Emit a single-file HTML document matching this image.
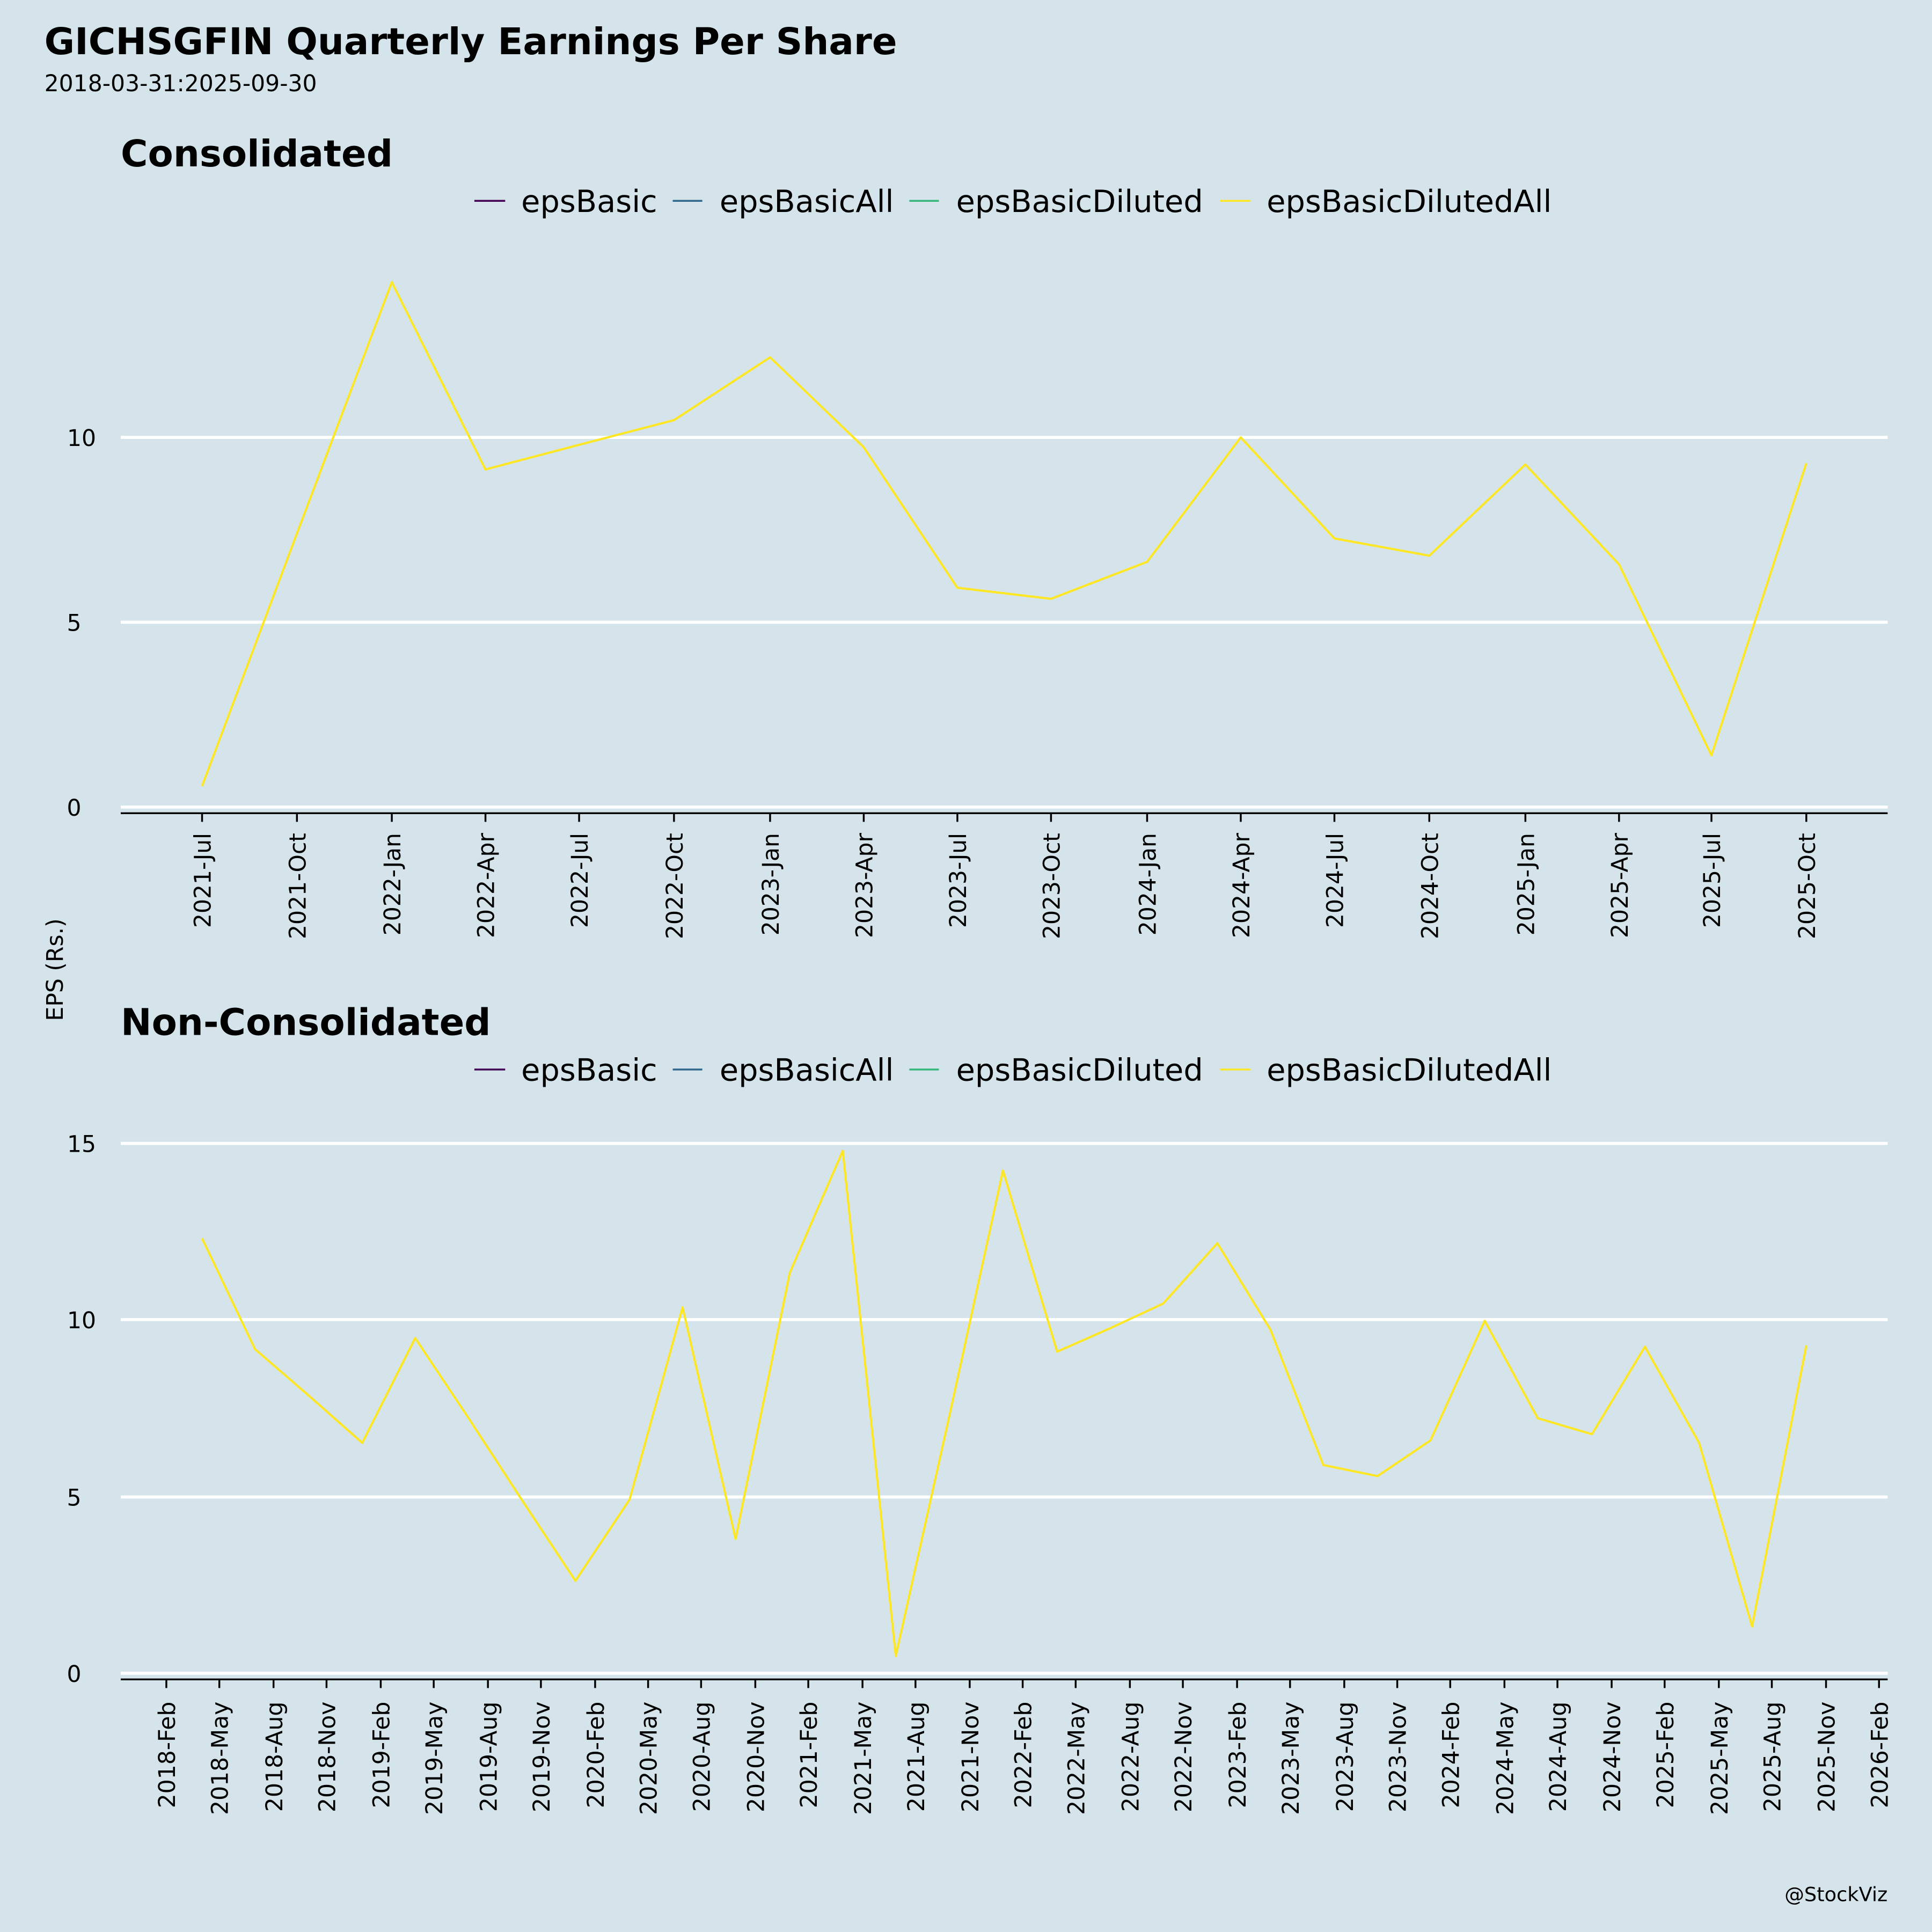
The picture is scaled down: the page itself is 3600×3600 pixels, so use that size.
<!DOCTYPE html>
<html><head><meta charset="utf-8"><style>
html,body{margin:0;padding:0;background:#d5e4eb;}
svg{display:block;}
text{font-family:"DejaVu Sans","Liberation Sans",sans-serif;fill:#000;}
</style></head><body>
<svg width="3600" height="3600" viewBox="0 0 1568 1568" xmlns="http://www.w3.org/2000/svg">
<rect width="1568" height="1568" fill="#d5e4eb"/>
<text x="36" y="44" font-size="30" font-weight="bold">GICHSGFIN Quarterly Earnings Per Share</text>
<text x="36" y="74" font-size="18.5">2018-03-31:2025-09-30</text>
<text x="45" y="787" font-size="18.5" transform="rotate(-90 45 787)" text-anchor="middle" dy="6">EPS (Rs.)</text>
<text x="1532" y="1543" font-size="16" text-anchor="end">@StockViz</text>

<!-- Panel 1 -->
<text x="98" y="135" font-size="30" font-weight="bold">Consolidated</text>
<g font-size="25">
<line x1="385" y1="163" x2="410" y2="163" stroke="#440154" stroke-width="1.5"/><text x="423" y="172">epsBasic</text>
<line x1="546" y1="163" x2="570" y2="163" stroke="#31688e" stroke-width="1.5"/><text x="584" y="172">epsBasicAll</text>
<line x1="738" y1="163" x2="762" y2="163" stroke="#35b779" stroke-width="1.5"/><text x="776" y="172">epsBasicDiluted</text>
<line x1="990" y1="163" x2="1015" y2="163" stroke="#fde725" stroke-width="1.5"/><text x="1028" y="172">epsBasicDilutedAll</text>
</g>
<g stroke="#fff" stroke-width="2.5">
<line x1="98" y1="655" x2="1532" y2="655"/><line x1="98" y1="505" x2="1532" y2="505"/><line x1="98" y1="355" x2="1532" y2="355"/>
</g>
<g font-size="18.5" text-anchor="end">
<text x="66" y="662">0</text><text x="66" y="512">5</text><text x="78" y="362">10</text>
</g>
<line x1="98" y1="660" x2="1532" y2="660" stroke="#000" stroke-width="1.5"/>
<g stroke="#000" stroke-width="1.5">
<line x1="164" y1="660" x2="164" y2="667"/><line x1="241" y1="660" x2="241" y2="667"/><line x1="318" y1="660" x2="318" y2="667"/><line x1="394" y1="660" x2="394" y2="667"/><line x1="470" y1="660" x2="470" y2="667"/><line x1="547" y1="660" x2="547" y2="667"/><line x1="625" y1="660" x2="625" y2="667"/><line x1="701" y1="660" x2="701" y2="667"/><line x1="777" y1="660" x2="777" y2="667"/><line x1="853" y1="660" x2="853" y2="667"/><line x1="931" y1="660" x2="931" y2="667"/><line x1="1007" y1="660" x2="1007" y2="667"/><line x1="1083" y1="660" x2="1083" y2="667"/><line x1="1160" y1="660" x2="1160" y2="667"/><line x1="1238" y1="660" x2="1238" y2="667"/><line x1="1314" y1="660" x2="1314" y2="667"/><line x1="1389" y1="660" x2="1389" y2="667"/><line x1="1466" y1="660" x2="1466" y2="667"/>
</g>
<g font-size="18.5" text-anchor="end">
<text transform="translate(171,676) rotate(-90)">2021-Jul</text>
<text transform="translate(248,676) rotate(-90)">2021-Oct</text>
<text transform="translate(325,676) rotate(-90)">2022-Jan</text>
<text transform="translate(401,676) rotate(-90)">2022-Apr</text>
<text transform="translate(477,676) rotate(-90)">2022-Jul</text>
<text transform="translate(554,676) rotate(-90)">2022-Oct</text>
<text transform="translate(632,676) rotate(-90)">2023-Jan</text>
<text transform="translate(708,676) rotate(-90)">2023-Apr</text>
<text transform="translate(784,676) rotate(-90)">2023-Jul</text>
<text transform="translate(860,676) rotate(-90)">2023-Oct</text>
<text transform="translate(938,676) rotate(-90)">2024-Jan</text>
<text transform="translate(1014,676) rotate(-90)">2024-Apr</text>
<text transform="translate(1090,676) rotate(-90)">2024-Jul</text>
<text transform="translate(1167,676) rotate(-90)">2024-Oct</text>
<text transform="translate(1245,676) rotate(-90)">2025-Jan</text>
<text transform="translate(1321,676) rotate(-90)">2025-Apr</text>
<text transform="translate(1396,676) rotate(-90)">2025-Jul</text>
<text transform="translate(1473,676) rotate(-90)">2025-Oct</text>
</g>
<polyline fill="none" stroke="#fde725" stroke-width="1.8" stroke-linejoin="round" points="164,638 241,433 318,229 394,381 470,361 547,341 625,290 701,363 777,477 853,486 931,456 1007,355 1083,437 1160,451 1238,377 1314,458 1389,613 1466,376"/>

<!-- Panel 2 -->
<text x="98" y="840" font-size="30" font-weight="bold">Non-Consolidated</text>
<g font-size="25">
<line x1="385" y1="868" x2="410" y2="868" stroke="#440154" stroke-width="1.5"/><text x="423" y="877">epsBasic</text>
<line x1="546" y1="868" x2="570" y2="868" stroke="#31688e" stroke-width="1.5"/><text x="584" y="877">epsBasicAll</text>
<line x1="738" y1="868" x2="762" y2="868" stroke="#35b779" stroke-width="1.5"/><text x="776" y="877">epsBasicDiluted</text>
<line x1="990" y1="868" x2="1015" y2="868" stroke="#fde725" stroke-width="1.5"/><text x="1028" y="877">epsBasicDilutedAll</text>
</g>
<g stroke="#fff" stroke-width="2.5">
<line x1="98" y1="1358" x2="1532" y2="1358"/><line x1="98" y1="1215" x2="1532" y2="1215"/><line x1="98" y1="1071" x2="1532" y2="1071"/><line x1="98" y1="928" x2="1532" y2="928"/>
</g>
<g font-size="18.5" text-anchor="end">
<text x="66" y="1365">0</text><text x="66" y="1222">5</text><text x="78" y="1078">10</text><text x="78" y="935">15</text>
</g>
<line x1="98" y1="1363" x2="1532" y2="1363" stroke="#000" stroke-width="1.5"/>
<polyline fill="none" stroke="#fde725" stroke-width="1.8" stroke-linejoin="round" points="164,1005 207,1095 251,1133 294,1171 337,1086 381,1152 424,1218 467,1283 511,1217 554,1061 597,1249 641,1033 684,934 727,1344 771,1147 814,950 858,1097 901,1078 944,1058 988,1009 1031,1079 1074,1189 1118,1198 1161,1169 1205,1072 1248,1151 1292,1164 1335,1093 1379,1171 1422,1320 1466,1092"/>
<g stroke="#000" stroke-width="1.5">
<line x1="135" y1="1363" x2="135" y2="1370"/><line x1="178" y1="1363" x2="178" y2="1370"/><line x1="222" y1="1363" x2="222" y2="1370"/><line x1="265" y1="1363" x2="265" y2="1370"/><line x1="309" y1="1363" x2="309" y2="1370"/><line x1="352" y1="1363" x2="352" y2="1370"/><line x1="396" y1="1363" x2="396" y2="1370"/><line x1="439" y1="1363" x2="439" y2="1370"/><line x1="483" y1="1363" x2="483" y2="1370"/><line x1="526" y1="1363" x2="526" y2="1370"/><line x1="569" y1="1363" x2="569" y2="1370"/><line x1="613" y1="1363" x2="613" y2="1370"/><line x1="656" y1="1363" x2="656" y2="1370"/><line x1="700" y1="1363" x2="700" y2="1370"/><line x1="743" y1="1363" x2="743" y2="1370"/><line x1="787" y1="1363" x2="787" y2="1370"/><line x1="830" y1="1363" x2="830" y2="1370"/><line x1="873" y1="1363" x2="873" y2="1370"/><line x1="917" y1="1363" x2="917" y2="1370"/><line x1="960" y1="1363" x2="960" y2="1370"/><line x1="1004" y1="1363" x2="1004" y2="1370"/><line x1="1047" y1="1363" x2="1047" y2="1370"/><line x1="1091" y1="1363" x2="1091" y2="1370"/><line x1="1134" y1="1363" x2="1134" y2="1370"/><line x1="1177" y1="1363" x2="1177" y2="1370"/><line x1="1221" y1="1363" x2="1221" y2="1370"/><line x1="1264" y1="1363" x2="1264" y2="1370"/><line x1="1308" y1="1363" x2="1308" y2="1370"/><line x1="1351" y1="1363" x2="1351" y2="1370"/><line x1="1395" y1="1363" x2="1395" y2="1370"/><line x1="1438" y1="1363" x2="1438" y2="1370"/><line x1="1482" y1="1363" x2="1482" y2="1370"/><line x1="1525" y1="1363" x2="1525" y2="1370"/>
</g>
<g font-size="18.5" text-anchor="end">
<text transform="translate(142,1381) rotate(-90)">2018-Feb</text>
<text transform="translate(185,1381) rotate(-90)">2018-May</text>
<text transform="translate(229,1381) rotate(-90)">2018-Aug</text>
<text transform="translate(272,1381) rotate(-90)">2018-Nov</text>
<text transform="translate(316,1381) rotate(-90)">2019-Feb</text>
<text transform="translate(359,1381) rotate(-90)">2019-May</text>
<text transform="translate(403,1381) rotate(-90)">2019-Aug</text>
<text transform="translate(446,1381) rotate(-90)">2019-Nov</text>
<text transform="translate(490,1381) rotate(-90)">2020-Feb</text>
<text transform="translate(533,1381) rotate(-90)">2020-May</text>
<text transform="translate(576,1381) rotate(-90)">2020-Aug</text>
<text transform="translate(620,1381) rotate(-90)">2020-Nov</text>
<text transform="translate(663,1381) rotate(-90)">2021-Feb</text>
<text transform="translate(707,1381) rotate(-90)">2021-May</text>
<text transform="translate(750,1381) rotate(-90)">2021-Aug</text>
<text transform="translate(794,1381) rotate(-90)">2021-Nov</text>
<text transform="translate(837,1381) rotate(-90)">2022-Feb</text>
<text transform="translate(880,1381) rotate(-90)">2022-May</text>
<text transform="translate(924,1381) rotate(-90)">2022-Aug</text>
<text transform="translate(967,1381) rotate(-90)">2022-Nov</text>
<text transform="translate(1011,1381) rotate(-90)">2023-Feb</text>
<text transform="translate(1054,1381) rotate(-90)">2023-May</text>
<text transform="translate(1098,1381) rotate(-90)">2023-Aug</text>
<text transform="translate(1141,1381) rotate(-90)">2023-Nov</text>
<text transform="translate(1184,1381) rotate(-90)">2024-Feb</text>
<text transform="translate(1228,1381) rotate(-90)">2024-May</text>
<text transform="translate(1271,1381) rotate(-90)">2024-Aug</text>
<text transform="translate(1315,1381) rotate(-90)">2024-Nov</text>
<text transform="translate(1358,1381) rotate(-90)">2025-Feb</text>
<text transform="translate(1402,1381) rotate(-90)">2025-May</text>
<text transform="translate(1445,1381) rotate(-90)">2025-Aug</text>
<text transform="translate(1489,1381) rotate(-90)">2025-Nov</text>
<text transform="translate(1532,1381) rotate(-90)">2026-Feb</text>
</g>
</svg>
</body></html>
